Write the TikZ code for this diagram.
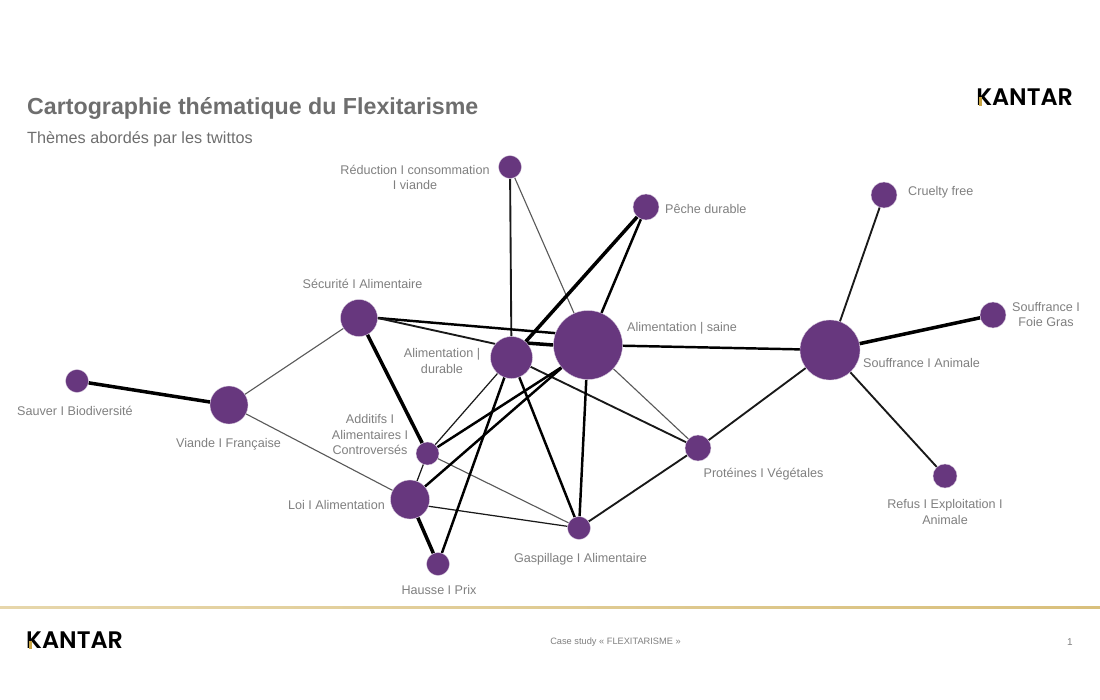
\documentclass[tikz,border=0pt]{standalone}
\usepackage{fontspec}
\setmainfont{Liberation Sans}
\newfontfamily\kantarfont{Poppins}[UprightFont=* SemiBold]
\usetikzlibrary{backgrounds}
\definecolor{themepurple}{HTML}{67377E}
\definecolor{labelgrey}{HTML}{7F7F7F}
\definecolor{titlegrey}{HTML}{6E6E6E}
\definecolor{kantargold}{HTML}{C9A544}
\newcommand{\kantarlogo}[0]{\kantarfont KANTAR}
\tikzset{
  theme/.style={circle,fill=themepurple,draw=themepurple!25,line width=.3pt,inner sep=0pt,minimum size=#1*0.06cm},
  lbl/.style={text=labelgrey,font=\fontsize{10.75}{13.2}\selectfont,align=center,inner sep=0pt},
  faint/.style={draw=black!65,line width=.95pt},
  thin link/.style={draw=black!90,line width=1.05pt},
  mid link/.style={draw=black!90,line width=1.6pt},
  strong/.style={draw=black,line width=2.1pt},
  heavy/.style={draw=black,line width=3pt},
  logo/.style={text=black,font=\fontsize{20.4}{22}\selectfont,inner sep=0pt}
}
\begin{document}
\begin{tikzpicture}[x=0.03cm,y=-0.03cm]
\useasboundingbox (0,0) rectangle (1100,699);
% header
\node[anchor=west,text=titlegrey,font=\fontsize{19.8}{22}\selectfont\bfseries,inner sep=0pt] (title) at (27,108.5) {Cartographie thématique du Flexitarisme};
\node[anchor=west,text=titlegrey,font=\fontsize{13.85}{16}\selectfont,inner sep=0pt] (subtitle) at (27,139) {Thèmes abordés par les twittos};
\node[logo,anchor=west] (logotop) at (976,97) {\kantarlogo};
\fill[kantargold] (978.5,97) rectangle (981.5,105.5);
% themes
\node[theme=11.5] (reduc) at (510,167) {};
\node[theme=13] (peche) at (646,207) {};
\node[theme=13] (cruelty) at (884,195) {};
\node[theme=13] (foie) at (993,315) {};
\node[theme=18.5] (secur) at (359,318) {};
\node[theme=34.5] (saine) at (588,345) {};
\node[theme=21] (durable) at (511.5,357.5) {};
\node[theme=30] (animale) at (830,350) {};
\node[theme=11.5] (sauver) at (77,381) {};
\node[theme=19] (viande) at (229,405) {};
\node[theme=11.5] (additifs) at (427.5,453.5) {};
\node[theme=13] (proteines) at (698,448) {};
\node[theme=12] (refus) at (945,476) {};
\node[theme=19.5] (loi) at (410,499.5) {};
\node[theme=11.5] (gaspi) at (579,528) {};
\node[theme=11.5] (hausse) at (438,564) {};
% links
\begin{scope}[on background layer]
\draw[mid link] (reduc) -- (durable);
\draw[faint] (reduc) -- (saine);
\draw[heavy] (peche) -- (durable);
\draw[strong] (peche) -- (saine);
\draw[mid link] (cruelty) -- (animale);
\draw[heavy] (foie) -- (animale);
\draw[strong] (secur.east) -- (saine.160);
\draw[mid link] (secur.east) -- (durable.140);
\draw[faint] (secur) -- (viande);
\draw[heavy] (secur) -- (additifs);
\draw[strong] (saine) -- (animale);
\draw[heavy] (durable.43) -- (saine.180);
\draw[faint] (saine) -- (proteines);
\draw[mid link] (durable) -- (proteines);
\draw[heavy] (sauver) -- (viande);
\draw[faint] (viande) -- (loi);
\draw[thin link] (additifs) -- (durable);
\draw[strong] (additifs) -- (saine.220);
\draw[thin link] (additifs) -- (loi);
\draw[faint] (additifs) -- (gaspi);
\draw[strong] (loi) -- (saine);
\draw[thin link] (loi.-20) -- (gaspi);
\draw[heavy] (loi) -- (hausse);
\draw[strong] (hausse) -- (durable);
\draw[strong] (durable) -- (gaspi);
\draw[strong] (saine) -- (gaspi);
\draw[mid link] (proteines) -- (gaspi);
\draw[mid link] (proteines) -- (animale);
\draw[mid link] (animale) -- (refus);
\end{scope}
% labels
\node[lbl] (reducl) at (415,177.5) {Réduction I consommation\\I viande};
\node[lbl,anchor=west] (pechel) at (665,209) {Pêche durable};
\node[lbl,anchor=west] (crueltyl) at (908,192.5) {Cruelty free};
\node[lbl] (foiel) at (1046,314.5) {Souffrance I\\Foie Gras};
\node[lbl] (securl) at (362.5,283.5) {Sécurité I Alimentaire};
\node[lbl,anchor=west] (sainel) at (627,328) {Alimentation | saine};
\node[lbl] (durablel) at (442,361) {Alimentation |\\durable};
\node[lbl,anchor=west] (animalel) at (863,362.5) {Souffrance I Animale};
\node[lbl] (sauverl) at (75,410.5) {Sauver I Biodiversité};
\node[lbl] (viandel) at (228.5,444) {Viande I Française};
\node[lbl] (additifsl) at (370,434.5) {Additifs I\\Alimentaires I\\Controversés};
\node[lbl] (proteinesl) at (763.5,474) {Protéines I Végétales};
\node[lbl] (refusl) at (945,512) {Refus I Exploitation I\\Animale};
\node[lbl] (loil) at (336.5,505) {Loi I Alimentation};
\node[lbl] (gaspil) at (580.5,559) {Gaspillage I Alimentaire};
\node[lbl] (haussel) at (439,589.5) {Hausse I Prix};
% footer
\shade[left color=kantargold!45,middle color=kantargold,right color=kantargold!70] (0,606.6) rectangle (1100,608);
\node[logo,anchor=west] (logobottom) at (26,640.5) {\kantarlogo};
\fill[kantargold] (28.5,640.5) rectangle (31.5,649);
\node[text=labelgrey,font=\fontsize{7.9}{9}\selectfont,inner sep=0pt] (casestudy) at (615.5,642) {Case study « FLEXITARISME »};
\node[text=labelgrey,font=\fontsize{8.5}{10}\selectfont,inner sep=0pt] (pagenum) at (1070,642) {1};
\end{tikzpicture}
\end{document}
